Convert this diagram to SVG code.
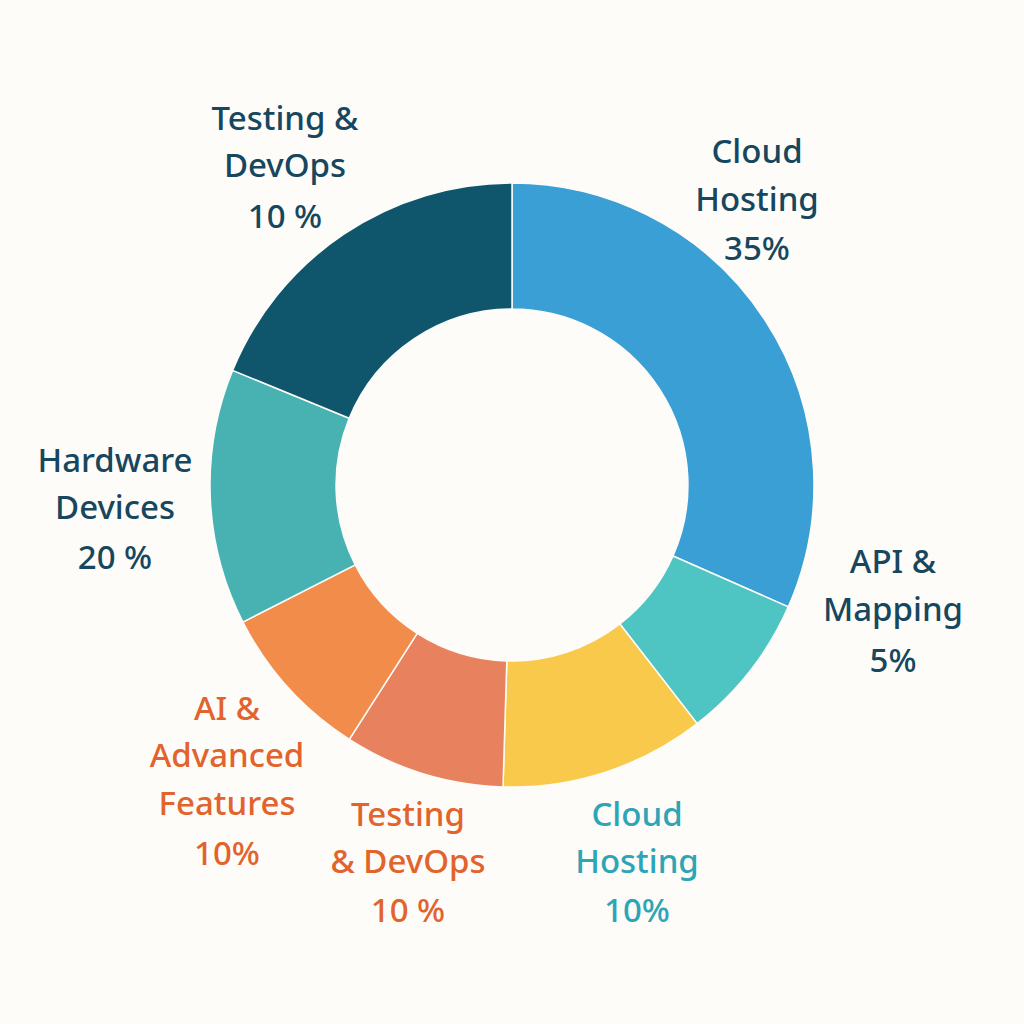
<svg xmlns="http://www.w3.org/2000/svg" width="1024" height="1024" viewBox="0 0 1024 1024">
<style>
.s{stroke:#fdfcf9;stroke-width:1.5}
text{font-family:"Noto Sans","Liberation Sans",sans-serif;font-size:33px;font-weight:500;text-anchor:middle}
.d{fill:#17475e}.o{fill:#e2632b}.t{fill:#2ea5b6}
</style>
<rect width="1024" height="1024" fill="#fdfcf9"/>
<g id="cloud35"><path class="s" fill="#3a9fd5" d="M512,183 A302,302 0 0 1 788.3,606.9 L673,556 A176,176 0 0 0 512,309 Z"/><text class="d"><tspan x="757" y="163">Cloud</tspan><tspan x="757" y="211">Hosting</tspan><tspan x="757" y="260">35%</tspan></text></g>
<g id="api"><path class="s" fill="#4ec5c2" d="M788.3,606.9 A302,302 0 0 1 697.1,723.6 L619.9,624 A176,176 0 0 0 673,556 Z"/><text class="d"><tspan x="893" y="573">API &amp;</tspan><tspan x="893" y="621">Mapping</tspan><tspan x="893" y="672">5%</tspan></text></g>
<g id="cloud10"><path class="s" fill="#f8c94a" d="M697.1,723.6 A302,302 0 0 1 503,786.9 L506.8,660.9 A176,176 0 0 0 619.9,624 Z"/><text class="t"><tspan x="637" y="826">Cloud</tspan><tspan x="637" y="873">Hosting</tspan><tspan x="637" y="922">10%</tspan></text></g>
<g id="testing10b"><path class="s" fill="#e8825e" d="M503,786.9 A302,302 0 0 1 349.3,739.4 L417.2,633.3 A176,176 0 0 0 506.8,660.9 Z"/><text class="o"><tspan x="408" y="826">Testing</tspan><tspan x="408" y="873">&amp; DevOps</tspan><tspan x="408" y="922">10 %</tspan></text></g>
<g id="ai"><path class="s" fill="#f28c4a" d="M349.3,739.4 A302,302 0 0 1 242.9,622.1 L355.2,564.9 A176,176 0 0 0 417.2,633.3 Z"/><text class="o"><tspan x="227" y="720">AI &amp;</tspan><tspan x="227" y="767">Advanced</tspan><tspan x="227" y="815">Features</tspan><tspan x="227" y="865">10%</tspan></text></g>
<g id="hardware"><path class="s" fill="#48b2b2" d="M242.9,622.1 A302,302 0 0 1 232.6,370.4 L349.2,418.2 A176,176 0 0 0 355.2,564.9 Z"/><text class="d"><tspan x="115" y="472">Hardware</tspan><tspan x="115" y="519">Devices</tspan><tspan x="115" y="569">20 %</tspan></text></g>
<g id="testing10a"><path class="s" fill="#0f566c" d="M232.6,370.4 A302,302 0 0 1 512,183 L512,309 A176,176 0 0 0 349.2,418.2 Z"/><text class="d"><tspan x="285" y="130">Testing &amp;</tspan><tspan x="285" y="177">DevOps</tspan><tspan x="285" y="228">10 %</tspan></text></g>
<g id="connectors"/>
</svg>
